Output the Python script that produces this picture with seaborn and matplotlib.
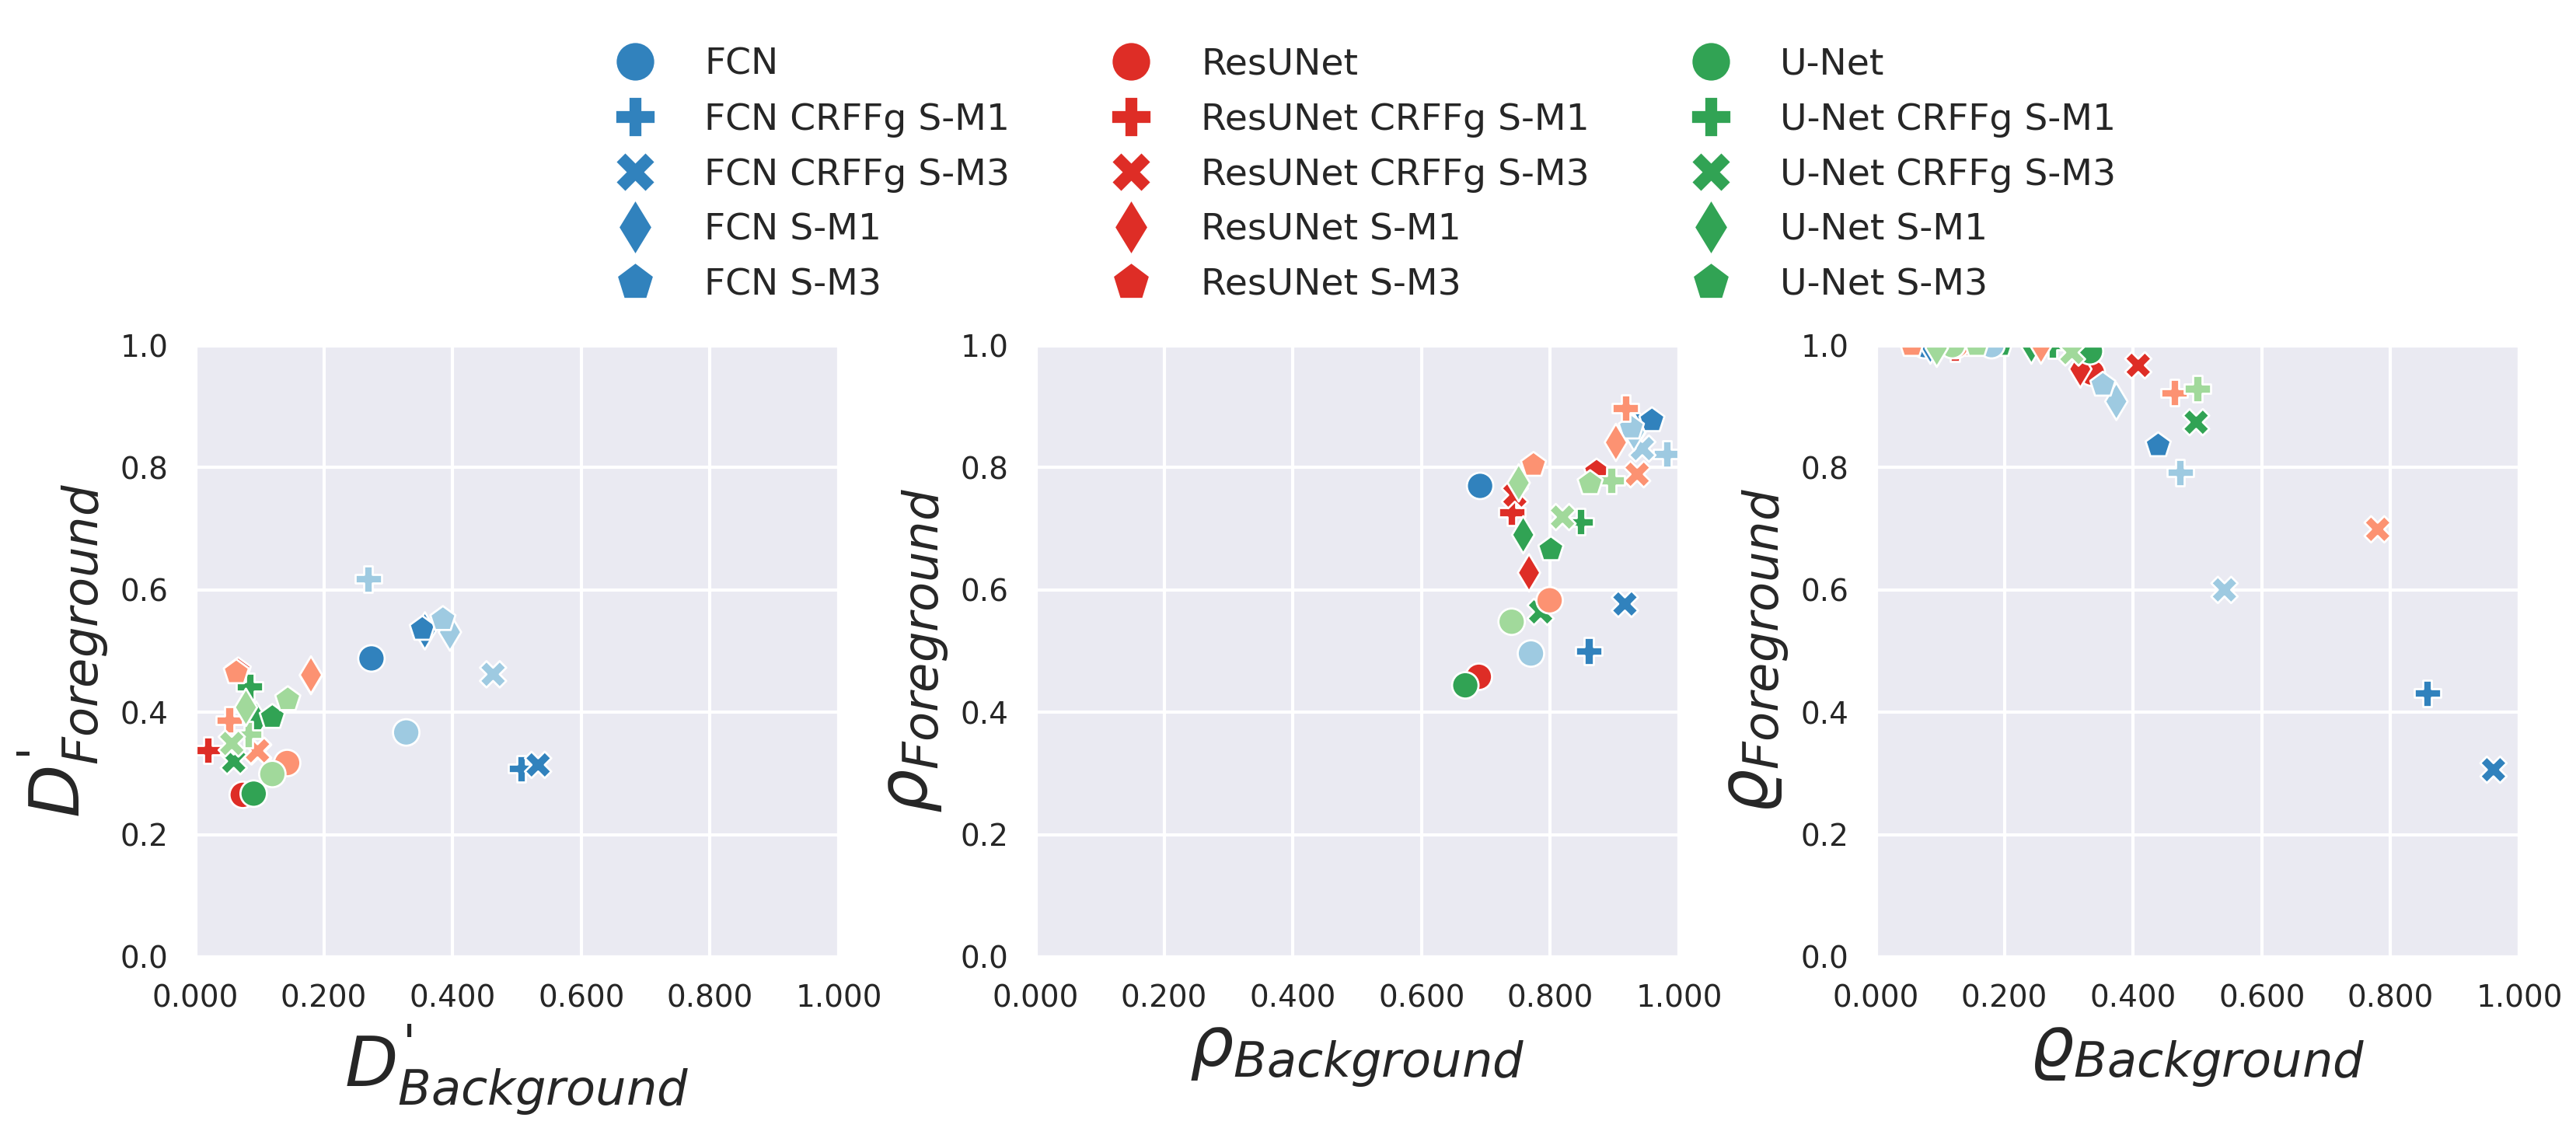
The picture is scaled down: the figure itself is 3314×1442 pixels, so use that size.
import numpy as np
import pandas as pd
import matplotlib
matplotlib.use("Agg")
import matplotlib.pyplot as plt
import seaborn as sns
from matplotlib.ticker import FormatStrFormatter

# --- data ---
models = [
    "FCN", "FCN CRFFg S-M1", "FCN CRFFg S-M3", "FCN S-M1", "FCN S-M3",
    "ResUNet", "ResUNet CRFFg S-M1", "ResUNet CRFFg S-M3", "ResUNet S-M1", "ResUNet S-M3",
    "U-Net", "U-Net CRFFg S-M1", "U-Net CRFFg S-M3", "U-Net S-M1", "U-Net S-M3",
]

# panel 1: D' (set A = dark colours, set B = light colours)
dprime_bg_a = [0.274, 0.507, 0.533, 0.357, 0.353, 0.074, 0.020, 0.098, 0.180, 0.067,
               0.091, 0.085, 0.060, 0.095, 0.120]
dprime_fg_a = [0.488, 0.308, 0.314, 0.533, 0.536, 0.265, 0.338, 0.336, 0.460, 0.468,
               0.267, 0.442, 0.320, 0.387, 0.392]
dprime_bg_b = [0.328, 0.269, 0.463, 0.396, 0.385, 0.143, 0.053, 0.097, 0.180, 0.064,
               0.120, 0.083, 0.057, 0.079, 0.144]
dprime_fg_b = [0.367, 0.618, 0.462, 0.531, 0.552, 0.317, 0.387, 0.337, 0.461, 0.465,
               0.299, 0.364, 0.349, 0.408, 0.421]

# panel 2: rho
rho_bg_a = [0.691, 0.860, 0.916, 0.935, 0.958, 0.689, 0.740, 0.745, 0.767, 0.872,
            0.668, 0.847, 0.785, 0.758, 0.801]
rho_fg_a = [0.770, 0.500, 0.577, 0.865, 0.877, 0.458, 0.727, 0.755, 0.628, 0.793,
            0.444, 0.711, 0.564, 0.690, 0.666]
rho_bg_b = [0.770, 0.981, 0.943, 0.930, 0.926, 0.799, 0.917, 0.935, 0.902, 0.774,
            0.740, 0.895, 0.819, 0.751, 0.862]
rho_fg_b = [0.496, 0.822, 0.831, 0.858, 0.865, 0.583, 0.897, 0.789, 0.841, 0.804,
            0.548, 0.779, 0.719, 0.775, 0.774]

# panel 3: varrho
vrho_bg_a = [0.076, 0.857, 0.960, 0.085, 0.439, 0.336, 0.123, 0.408, 0.318, 0.138,
             0.333, 0.275, 0.498, 0.242, 0.194]
vrho_fg_a = [1.000, 0.431, 0.306, 1.000, 0.836, 0.955, 0.995, 0.967, 0.961, 1.000,
             0.990, 1.000, 0.874, 1.000, 1.000]
vrho_bg_b = [0.180, 0.473, 0.542, 0.374, 0.353, 0.125, 0.464, 0.780, 0.257, 0.056,
             0.119, 0.500, 0.305, 0.095, 0.157]
vrho_fg_b = [1.000, 0.792, 0.600, 0.908, 0.935, 1.000, 0.922, 0.699, 1.000, 1.000,
             1.000, 0.929, 0.988, 0.995, 1.000]

# --- styling ---
dark = {"FCN": "#3182bd", "ResUNet": "#de2d26", "U-Net": "#31a354"}
light = {"FCN": "#9ecae1", "ResUNet": "#fc9272", "U-Net": "#a1d99b"}
variant_marker = {"": "o", "CRFFg S-M1": "P", "CRFFg S-M3": "X", "S-M1": "d", "S-M3": "p"}


def split(name):
    base, _, rest = name.partition(" ")
    return base, rest


pal_a = {m: dark[split(m)[0]] for m in models}
pal_b = {m: light[split(m)[0]] for m in models}
marker_map = {m: variant_marker[split(m)[1]] for m in models}

sns.set_theme(style="darkgrid", context="talk")
plt.rcParams["font.family"] = ["DejaVu Sans"]

fig = plt.figure(figsize=(16.57, 7.21), dpi=200)
W, H = 3314, 1442
lefts = [251, 1332, 2413]
axes = [fig.add_axes([l / W, 1 - 1231 / H, 828 / W, 787 / H]) for l in lefts]

panels = [
    (dprime_bg_a, dprime_fg_a, dprime_bg_b, dprime_fg_b,
     r"$D^{\text{'}}_{Background}$", r"$D^{\text{'}}_{Foreground}$"),
    (rho_bg_a, rho_fg_a, rho_bg_b, rho_fg_b,
     r"$\rho_{Background}$", r"$\rho_{Foreground}$"),
    (vrho_bg_a, vrho_fg_a, vrho_bg_b, vrho_fg_b,
     r"$\varrho_{Background}$", r"$\varrho_{Foreground}$"),
]

for i, (ax, (bxa, fya, bxb, fyb, xl, yl)) in enumerate(zip(axes, panels)):
    df_a = pd.DataFrame({"model": models, "bg": bxa, "fg": fya})
    df_b = pd.DataFrame({"model": models, "bg": bxb, "fg": fyb})
    sns.scatterplot(data=df_a, x="bg", y="fg", hue="model", style="model",
                    hue_order=models, style_order=models, palette=pal_a,
                    markers=marker_map, s=150, ax=ax, legend=(i == 1))
    sns.scatterplot(data=df_b, x="bg", y="fg", hue="model", style="model",
                    hue_order=models, style_order=models, palette=pal_b,
                    markers=marker_map, s=150, ax=ax, legend=False)
    ax.set_xlim(0, 1)
    ax.set_ylim(0, 1)
    ax.set_xticks(np.arange(0, 1.01, 0.2))
    ax.set_yticks(np.arange(0, 1.01, 0.2))
    ax.xaxis.set_major_formatter(FormatStrFormatter("%.3f"))
    ax.yaxis.set_major_formatter(FormatStrFormatter("%.1f"))
    ax.tick_params(labelsize=14)
    ax.set_xlabel(xl, fontsize=32)
    ax.set_ylabel(yl, fontsize=32)

# shared legend on top, built from the middle panel's seaborn legend
leg = axes[1].get_legend()
handles = leg.legend_handles
labels = [t.get_text() for t in leg.get_texts()]
leg.remove()
pairs = [(h, l) for h, l in zip(handles, labels) if l in models]
axes[1].legend([p[0] for p in pairs], [p[1] for p in pairs], ncol=3,
               loc="lower center", bbox_to_anchor=(0.5, 1.045), frameon=False,
               fontsize=17, markerscale=1.5, labelspacing=0.55,
               handletextpad=0.9, borderaxespad=0, columnspacing=2.3)

fig.savefig("out.png", dpi=200)
